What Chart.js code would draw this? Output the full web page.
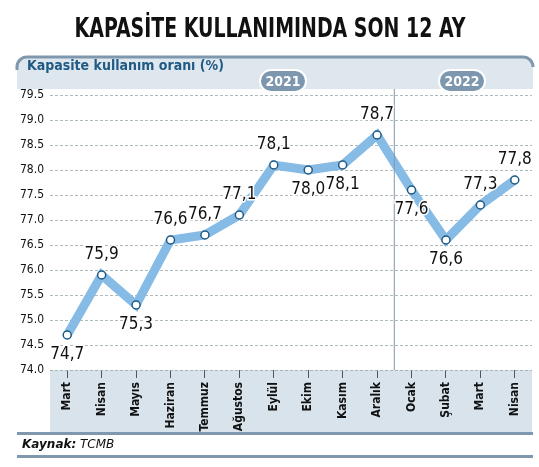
<!DOCTYPE html>
<html><head><meta charset="utf-8">
<script src="https://cdn.jsdelivr.net/npm/chart.js@4"></script>
<style>html,body{margin:0;background:#fff}#wrap{width:539px;height:467px}</style>
</head><body><div id="wrap"><canvas id="c"></canvas></div>
<script>
// veriler
var months = ['Mart','Nisan','Mayıs','Haziran','Temmuz','Ağustos','Eylül','Ekim','Kasım','Aralık','Ocak','Şubat','Mart','Nisan'];
var rates = [74.7,75.9,75.3,76.6,76.7,77.1,78.1,78.0,78.1,78.7,77.6,76.6,77.3,77.8];
var labelBelow = [true,false,true,false,false,false,false,true,true,false,true,true,false,false];
var years = ['2021','2022'];

var FONT = '"DejaVu Sans Condensed","Liberation Sans Narrow",sans-serif';

function pill(ctx, x, y, w, h, txt) {
    ctx.fillStyle = '#7d97ae';
    ctx.strokeStyle = '#ffffff';
    ctx.lineWidth = 2;
    ctx.beginPath();
    ctx.roundRect(x - w/2, y - h/2, w, h, h/2);
    ctx.fill(); ctx.stroke();
    ctx.fillStyle = '#fff';
    ctx.font = 'bold 14px ' + FONT;
    ctx.textAlign = 'center'; ctx.textBaseline = 'middle';
    ctx.fillText(txt, x, y + 1);
}

var decor = {
    id: 'decor',
    beforeDraw: function(chart) {
        var ctx = chart.ctx, a = chart.chartArea;
        ctx.save();
        // başlık
        ctx.save();
        ctx.translate(270, 30);
        ctx.scale(0.78, 1);
        ctx.fillStyle = '#111';
        ctx.font = 'bold 27px ' + FONT;
        ctx.textAlign = 'center'; ctx.textBaseline = 'middle';
        ctx.fillText('KAPASİTE KULLANIMINDA SON 12 AY', 0, 0);
        ctx.restore();
        // üst bant
        ctx.fillStyle = '#dfe7ee';
        ctx.beginPath(); ctx.roundRect(17, 57, 516, 32, [8, 8, 0, 0]); ctx.fill();
        ctx.strokeStyle = '#7f98ae'; ctx.lineWidth = 3;
        ctx.beginPath(); ctx.moveTo(17, 70); ctx.arcTo(17, 57, 30, 57, 10); ctx.lineTo(520, 57); ctx.arcTo(533, 57, 533, 70, 10); ctx.stroke();
        ctx.fillStyle = '#1f5a84';
        ctx.font = 'bold 14px ' + FONT;
        ctx.textAlign = 'left';
        ctx.fillText('Kapasite kullanım oranı (%)', 27, 70);
        // ay bandı
        ctx.fillStyle = '#d9e3ec';
        ctx.fillRect(a.left, a.bottom, a.right - a.left, 62);
        // alt çizgiler
        ctx.fillStyle = '#7f98ae';
        ctx.fillRect(17, 432, 516, 3);
        ctx.fillRect(17, 455, 516, 3);
        ctx.fillStyle = '#111';
        ctx.font = 'italic bold 12px "DejaVu Sans",sans-serif';
        ctx.textBaseline = 'middle';
        ctx.fillText('Kaynak:', 22, 445);
        ctx.font = 'italic 12px "DejaVu Sans",sans-serif';
        ctx.fillText('TCMB', 80, 445);
        ctx.restore();
    },
    afterDraw: function(chart) {
        var ctx = chart.ctx, a = chart.chartArea, x = chart.scales.x;
        ctx.save();
        var sep = (x.getPixelForValue(9) + x.getPixelForValue(10)) / 2;
        ctx.strokeStyle = '#7f98ae'; ctx.lineWidth = 1;
        ctx.beginPath(); ctx.moveTo(sep, a.top - 6); ctx.lineTo(sep, a.bottom); ctx.stroke();
        pill(ctx, 283, 81, 46, 22, years[0]);
        pill(ctx, 462, 81, 46, 22, years[1]);
        // değer etiketleri
        var meta = chart.getDatasetMeta(0);
        ctx.font = '17px ' + FONT;
        ctx.fillStyle = '#111';
        ctx.textAlign = 'center'; ctx.textBaseline = 'middle';
        ctx.strokeStyle = '#fff'; ctx.lineWidth = 3;
        meta.data.forEach(function(p, i) {
            var t = rates[i].toFixed(1).replace('.', ',');
            var y = p.y + (labelBelow[i] ? 20 : -20);
            ctx.strokeText(t, p.x, y);
            ctx.fillText(t, p.x, y);
        });
        ctx.restore();
    }
};

new Chart(document.getElementById('c'), {
    type: 'line',
    data: {
        labels: months,
        datasets: [{
            data: rates,
            borderColor: '#86bbe6',
            borderWidth: 9,
            borderJoinStyle: 'miter',
            pointRadius: 4,
            pointBackgroundColor: '#ffffff',
            pointBorderColor: '#1f5a84',
            pointBorderWidth: 1.5,
            tension: 0
        }]
    },
    options: {
        responsive: true,
        maintainAspectRatio: false,
        animation: false,
        layout: { padding: { top: 95, right: 7, bottom: 35, left: 0 } },
        plugins: { legend: { display: false }, tooltip: { enabled: false } },
        scales: {
            x: {
                offset: true,
                afterFit: function(s) { s.height = 62; },
                grid: { display: true, drawOnChartArea: false, tickLength: 8, color: '#555', offset: false },
                border: { display: false },
                ticks: { minRotation: 90, maxRotation: 90, color: '#111', padding: 4, font: { family: FONT, size: 12, weight: 'bold' } }
            },
            y: {
                min: 74, max: 79.5,
                afterFit: function(s) { s.width = 50; },
                grid: { color: '#9aa', lineWidth: 0.8, tickLength: 0 },
                border: { display: false, dash: [3, 2] },
                ticks: { stepSize: 0.5, color: '#111', padding: 6, font: { family: FONT, size: 12 },
                    callback: function(v) { return v.toFixed(1); } }
            }
        }
    },
    plugins: [decor]
});
</script></body></html>
